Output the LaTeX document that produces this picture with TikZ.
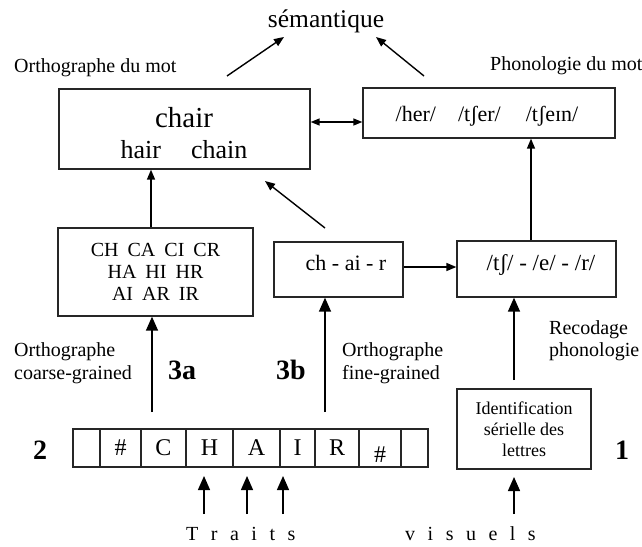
\documentclass[tikz,border=0pt]{standalone}
\usepackage{fontspec}
\setmainfont{Liberation Serif}
\usetikzlibrary{arrows.meta,calc}
\newcommand\spc{\hspace{12.5pt}}
\begin{document}
\begin{tikzpicture}[x=1pt,y=-1pt,
  box/.style={draw=black!85,line width=1.3pt,inner sep=0pt},
  lbl/.style={inner sep=0pt},
  cell/.style={draw=black!85,line width=1.3pt,inner sep=0pt,minimum height=38pt,font=\fontsize{24}{28}\selectfont},
  arr/.style={line width=1.4pt,-{Triangle[length=10pt,width=8pt]}},
  dblarr/.style={line width=1.4pt,{Triangle[length=9pt,width=7pt]}-{Triangle[length=9pt,width=7pt]}},
  bigarr/.style={line width=1.4pt,-{Triangle[length=14pt,width=12pt]}},
  ]
\useasboundingbox (0,0) rectangle (642,546);
% titles
\node[lbl,font=\fontsize{25.5}{28}\selectfont] (sem) at (326,21) {sémantique};
\node[lbl,font=\fontsize{20}{24}\selectfont,anchor=west] (orthmot) at (14,68) {Orthographe du mot};
\node[lbl,font=\fontsize{20}{24}\selectfont,anchor=west] (phonmot) at (490,66) {Phonologie du mot};
% top boxes
\node[box,minimum width=251pt,minimum height=80pt] (chairbox) at (184.5,129) {};
\node[lbl,font=\fontsize{29}{32}\selectfont] (chairtxt) at (184,118) {chair};
\node[lbl,font=\fontsize{26}{30}\selectfont] (hairtxt) at (184,150) {hair\hspace{30pt}chain};
\node[box,minimum width=252pt,minimum height=50pt] (phonbox) at (489,113) {};
\node[lbl,font=\fontsize{22}{26}\selectfont] (phontxt) at (487,116) {/her/\hspace{22pt}/tʃer/\hspace{25pt}/tʃeɪn/};
% middle boxes
\node[box,minimum width=195pt,minimum height=88pt,align=center,font=\fontsize{20}{22}\selectfont] (chbox) at (155.5,272)
  {CH\hspace{9pt}CA\hspace{9pt}CI\hspace{9pt}CR\\HA\hspace{9pt}HI\hspace{9pt}HR\\AI\hspace{9pt}AR\hspace{9pt}IR};
\node[box,minimum width=129pt,minimum height=55pt] (chaibox) at (338.5,269.5) {};
\node[lbl,font=\fontsize{22}{26}\selectfont] (chaitxt) at (346,263) {ch - ai - r};
\node[box,minimum width=159pt,minimum height=56pt] (phon2box) at (536.5,269) {};
\node[lbl,font=\fontsize{23}{26}\selectfont] (phon2txt) at (541,265) {/tʃ/ - /e/ - /r/};
% side labels
\node[lbl,font=\fontsize{20}{23}\selectfont,anchor=west,align=left] (coarse) at (14,363) {Orthographe\\coarse-grained};
\node[lbl,font=\fontsize{20}{23}\selectfont,anchor=west,align=left] (fine) at (342,363) {Orthographe\\fine-grained};
\node[lbl,font=\fontsize{20}{22}\selectfont,anchor=west,align=left] (recod) at (549,341) {Recodage\\phonologie};
\node[lbl,font=\bfseries\fontsize{28}{30}\selectfont] (l3a) at (182,370) {3a};
\node[lbl,font=\bfseries\fontsize{28}{30}\selectfont] (l3b) at (291,370) {3b};
\node[lbl,font=\bfseries\fontsize{28}{30}\selectfont] (l2) at (40,450) {2};
\node[lbl,font=\bfseries\fontsize{28}{30}\selectfont] (l1) at (622,450) {1};
% letter cells
\node[cell,minimum width=27pt] (c1) at (86.5,448) {};
\node[cell,minimum width=41pt] (c2) at (120.5,448) {\#};
\node[cell,minimum width=45pt] (c3) at (163.5,448) {C};
\node[cell,minimum width=47pt] (c4) at (209.5,448) {H};
\node[cell,minimum width=47pt] (c5) at (256.5,448) {A};
\node[cell,minimum width=35pt] (c6) at (297.5,448) {I};
\node[cell,minimum width=44pt] (c7) at (337,448) {R};
\node[cell,minimum width=42pt] (c8) at (380,448) {};
\node[cell,minimum width=27pt] (c9) at (414.5,448) {};
\node[lbl,font=\fontsize{24}{28}\selectfont] (hash2) at (380,455) {\#};
% identification box
\node[box,minimum width=134pt,minimum height=80pt,align=center,font=\fontsize{18}{21}\selectfont] (ident) at (524,429)
  {Identification\\sérielle des\\lettres};
% bottom text
\node[lbl,font=\fontsize{20}{24}\selectfont,anchor=west] (traits) at (186,534) {T\spc r\spc a\spc i\spc t\spc s};
\node[lbl,font=\fontsize{20}{24}\selectfont,anchor=west] (visuels) at (405,534) {v\spc i\spc s\spc u\spc e\spc l\spc s};
% free coordinates
\coordinate (semLt) at (227,76);
\coordinate (semLh) at (284,37);
\coordinate (semRt) at (424,76);
\coordinate (semRh) at (376,37);
\coordinate (diagT) at (325,228);
\coordinate (diagH) at (265,181);
\coordinate (dblY) at (0,122);
\coordinate (upL) at (151,0);
\coordinate (upR) at (531,0);
\coordinate (midY) at (0,267);
\coordinate (a3t) at (152,412);
\coordinate (b3t) at (325,412);
\coordinate (rect) at (514,380);
\coordinate (f1t) at (204,514);
\coordinate (f1h) at (204,476);
\coordinate (f2t) at (247,514);
\coordinate (f2h) at (247,476);
\coordinate (f3t) at (283,514);
\coordinate (f3h) at (283,476);
\coordinate (idt) at (514,514);
\coordinate (idh) at (514,477);
% connectors
\draw[arr] (semLt) -- (semLh);
\draw[arr] (semRt) -- (semRh);
\draw[dblarr] (chairbox.east |- dblY) -- (phonbox.west |- dblY);
\draw[arr] (upL |- chbox.north) -- (upL |- chairbox.south);
\draw[arr] (upR |- phon2box.north) -- (upR |- phonbox.south);
\draw[arr] (chaibox.east |- midY) -- (phon2box.west |- midY);
\draw[arr] (diagT) -- (diagH);
\draw[bigarr] (a3t) -- (a3t |- chbox.south);
\draw[bigarr] (b3t) -- (b3t |- chaibox.south);
\draw[bigarr] (rect) -- (rect |- phon2box.south);
\draw[bigarr] (f1t) -- (f1h);
\draw[bigarr] (f2t) -- (f2h);
\draw[bigarr] (f3t) -- (f3h);
\draw[bigarr] (idt) -- (idh);
\end{tikzpicture}
\end{document}
